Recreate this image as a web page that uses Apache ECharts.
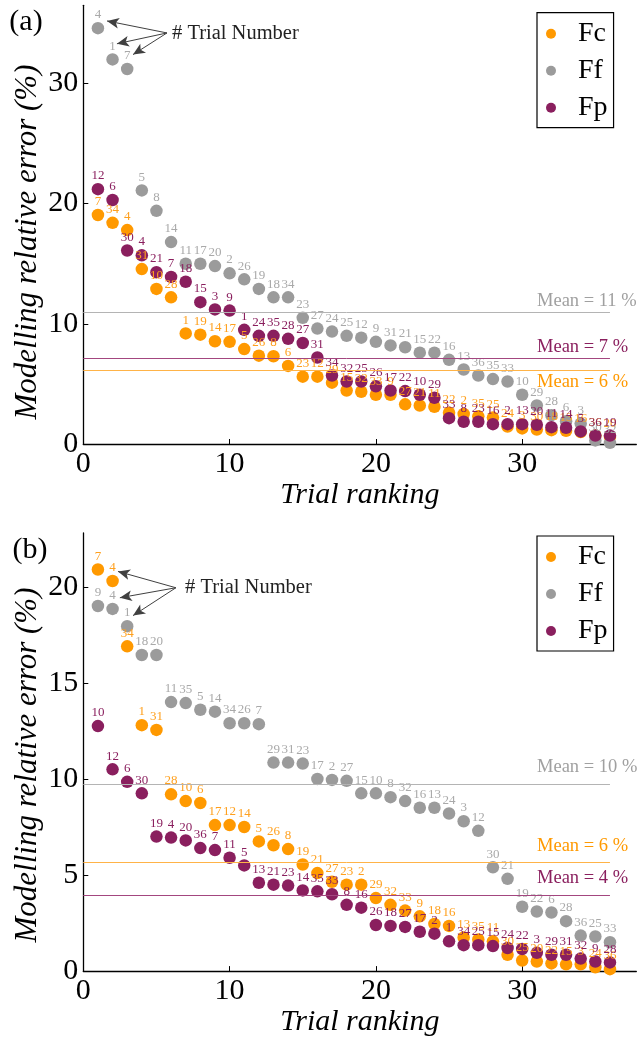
<!DOCTYPE html>
<html><head><meta charset="utf-8">
<script src="https://cdn.jsdelivr.net/npm/echarts@6/dist/echarts.min.js"></script>
<style>html,body{margin:0;padding:0;background:#fff}#c{width:637px;height:1038px}</style>
</head><body><div id="c"></div>
<script>
// ---------- DATA ----------
const ranks = [1,2,3,4,5,6,7,8,9,10,11,12,13,14,15,16,17,18,19,20,21,22,23,24,25,26,27,28,29,30,31,32,33,34,35,36];
const xTicks = [0,10,20,30];
const aYTicks = [0,10,20,30];
const bYTicks = [0,5,10,15,20];

// Panel (a)
const aFc = [19.05,18.4,17.8,14.55,12.9,12.2,9.2,9.1,8.55,8.5,7.9,7.35,7.3,6.5,5.6,5.6,5.1,4.45,4.35,4.1,4.1,3.3,3.2,3.1,2.6,2.5,2.3,2.2,1.45,1.3,1.2,1.15,1.1,1.0,0.7,0.6];
const aFcLab = [7,34,4,31,10,28,1,19,14,17,5,26,8,6,23,12,29,15,32,33,9,27,21,11,22,2,35,25,24,3,30,18,13,16,36,20];
const aFf = [34.6,32.0,31.2,21.1,19.4,16.8,15.0,15.0,14.8,14.2,13.7,12.9,12.2,12.2,10.5,9.6,9.35,9.0,8.85,8.5,8.2,8.05,7.6,7.6,7.0,6.2,5.7,5.4,5.2,4.1,3.2,2.4,1.9,1.7,0.3,0.1];
const aFfLab = [4,1,7,5,8,14,11,17,20,2,26,19,18,34,23,27,24,25,12,9,31,21,15,22,16,13,36,35,33,10,29,28,6,3,30,32];
const aFp = [21.2,20.3,16.1,15.7,14.3,13.9,13.5,11.8,11.2,11.1,9.5,9.0,9.0,8.75,8.4,7.2,5.7,5.2,5.2,4.8,4.45,4.4,4.1,3.85,2.15,1.85,1.85,1.65,1.65,1.65,1.6,1.4,1.35,1.05,0.7,0.7];
const aFpLab = [12,6,30,4,21,7,18,15,3,9,1,24,35,28,27,31,34,32,25,26,17,22,10,29,33,8,23,16,2,13,20,11,14,5,36,19];
const aMeans = [6.1, 11.0, 7.13];            // Fc, Ff, Fp
const aMeanText = ['Mean = 6 %', 'Mean = 11 %', 'Mean = 7 %'];

// Panel (b)
const bFc = [20.9,20.3,16.9,12.8,12.55,9.2,8.85,8.75,7.6,7.6,7.5,6.75,6.55,6.35,5.55,5.1,4.65,4.5,4.5,3.8,3.45,3.15,2.85,2.45,2.35,1.75,1.65,1.55,0.85,0.55,0.5,0.4,0.35,0.35,0.2,0.1];
const bFcLab = [7,4,34,1,31,28,10,6,17,12,14,5,26,8,19,21,27,23,2,29,32,33,9,18,16,13,35,11,30,25,20,22,15,3,24,36];
const bFf = [19.0,18.85,17.95,16.45,16.45,14.0,13.95,13.6,13.5,12.9,12.9,12.85,10.85,10.85,10.8,10.0,9.95,9.9,9.25,9.25,9.05,8.85,8.5,8.5,8.2,7.8,7.3,5.4,4.8,3.35,3.1,3.05,2.6,1.85,1.8,1.5];
const bFfLab = [9,4,1,18,20,11,35,5,14,34,26,7,29,31,23,17,2,27,15,10,8,32,16,13,24,3,12,30,21,19,22,6,28,36,25,33];
const bFp = [12.75,10.5,9.85,9.25,7.0,6.95,6.8,6.4,6.3,5.9,5.5,4.6,4.5,4.45,4.2,4.15,4.0,3.45,3.3,2.4,2.35,2.3,2.05,1.95,1.55,1.35,1.35,1.3,1.2,1.15,0.95,0.85,0.85,0.65,0.5,0.45];
const bFpLab = [10,12,6,30,19,4,20,36,7,11,5,13,21,23,14,35,33,8,16,26,18,27,17,2,1,34,25,15,24,22,3,29,31,32,9,28];
const bMeans = [5.68, 9.74, 3.95];
const bMeanText = ['Mean = 6 %', 'Mean = 10 %', 'Mean = 4 %'];

// annotation arrows (data coords): origin + tips
const aArrowFrom = [5.72, 34.2];
const aArrowTo = [[1.62,35.2],[2.3,33.3],[3.4,32.4]];
const bArrowFrom = [6.33, 19.95];
const bArrowTo = [[2.37,20.8],[2.5,19.43],[3.4,18.5]];

// ---------- STYLE ----------
const F = '"Liberation Serif", "Times New Roman", serif';
const COL = { Fc: '#FF9900', Ff: '#9B9B9B', Fp: '#8A1F5E' };
const LABCOL = { Fc: '#FFA01E', Ff: '#A9A9A9', Fp: '#8A1F5E' };
const LINECOL = { Fc: '#FFB347', Ff: '#B4B4B4', Fp: '#A3467F' };
const names = ['Fc','Ff','Fp'];

function scatter(name, vals, labs, gi, mean) {
  return {
    type: 'scatter', name, xAxisIndex: gi, yAxisIndex: gi,
    symbol: 'circle', symbolSize: 12.5, clip: false,
    itemStyle: { color: COL[name], opacity: 1 },
    label: { show: true, position: 'top', distance: 0.5,
      formatter: p => String(p.value[2]),
      color: LABCOL[name], fontFamily: F, fontSize: 13 },
    emphasis: { disabled: true },
    data: ranks.map((r, i) => [r, vals[i], labs[i]]),
    markLine: {
      silent: true, symbol: 'none', label: { show: false },
      lineStyle: { color: LINECOL[name], width: 1, type: 'solid' },
      data: [[{ coord: [0, mean] }, { coord: [36, mean] }]]
    }
  };
}
function arrows(gi, from, tos) {
  return {
    type: 'scatter', name: 'arrows' + gi, xAxisIndex: gi, yAxisIndex: gi, data: [],
    markLine: {
      silent: true, symbol: ['none', 'arrow'], symbolSize: [8, 12],
      label: { show: false },
      lineStyle: { color: '#404040', width: 1, type: 'solid' },
      data: tos.map(t => [{ coord: from }, { coord: t }])
    }
  };
}
function xAxis(gi) {
  return {
    type: 'value', gridIndex: gi, min: 0, max: 37.8, interval: 10,
    name: 'Trial ranking', nameLocation: 'middle', nameGap: 26,
    nameTextStyle: { fontFamily: F, fontSize: 30, fontStyle: 'italic', color: '#000' },
    axisLine: { show: true, onZero: false, lineStyle: { color: '#000', width: 1.3 } },
    axisTick: { show: true, inside: true, length: 5, customValues: xTicks, lineStyle: { color: '#000', width: 1 } },
    axisLabel: { customValues: xTicks, fontFamily: F, fontSize: 30, color: '#000', margin: 5 },
    splitLine: { show: false }
  };
}
function yAxis(gi, max, interval, ticks) {
  return {
    type: 'value', gridIndex: gi, min: 0, max, interval,
    axisLine: { show: true, onZero: false, lineStyle: { color: '#000', width: 1.3 } },
    axisTick: { show: true, inside: true, length: 5, customValues: ticks, lineStyle: { color: '#000', width: 1 } },
    axisLabel: { customValues: ticks, fontFamily: F, fontSize: 30, color: '#000', margin: 5 },
    splitLine: { show: false }
  };
}
function legend(top) {
  return {
    data: names, orient: 'vertical', left: 537, top,
    icon: 'circle', itemWidth: 44, itemHeight: 10, itemGap: 7,
    padding: [6, 6, 5, 9],
    borderColor: '#000', borderWidth: 1.2, backgroundColor: '#fff',
    selectedMode: false,
    textStyle: { fontFamily: F, fontSize: 28, color: '#000', lineHeight: 30 }
  };
}
function txt(x, y, text, font, fill, align, rot) {
  return { type: 'text', x, y, rotation: rot || 0, z: 100,
    style: { text, font, fill, textAlign: align || 'left', textVerticalAlign: 'middle' } };
}

const chart = echarts.init(document.getElementById('c'), null, { renderer: 'canvas' });
const option = {
  animation: false,
  backgroundColor: '#fff',
  grid: [
    { left: 83.3, width: 553, top: 5.3, height: 438.7 },
    { left: 83.3, width: 553, top: 533, height: 440 }
  ],
  xAxis: [xAxis(0), xAxis(1)],
  yAxis: [yAxis(0, 36.5, 10, aYTicks), yAxis(1, 22.8, 5, bYTicks)],
  legend: [legend(12.7), legend(536)],
  series: [
    scatter('Fc', aFc, aFcLab, 0, aMeans[0]),
    scatter('Ff', aFf, aFfLab, 0, aMeans[1]),
    scatter('Fp', aFp, aFpLab, 0, aMeans[2]),
    arrows(0, aArrowFrom, aArrowTo),
    scatter('Fc', bFc, bFcLab, 1, bMeans[0]),
    scatter('Ff', bFf, bFfLab, 1, bMeans[1]),
    scatter('Fp', bFp, bFpLab, 1, bMeans[2]),
    arrows(1, bArrowFrom, bArrowTo)
  ],
  graphic: [
    txt(26, 22, '(a)', '30px ' + F, '#000', 'center'),
    txt(30, 550, '(b)', '30px ' + F, '#000', 'center'),
    txt(28, 242, 'Modelling relative error (%)', 'italic 31px ' + F, '#000', 'center', Math.PI / 2),
    txt(28, 765, 'Modelling relative error (%)', 'italic 31px ' + F, '#000', 'center', Math.PI / 2),
    txt(172, 34, '# Trial Number', '20.5px ' + F, '#222'),
    txt(185, 588, '# Trial Number', '20.5px ' + F, '#222'),
    txt(537, 300.7, aMeanText[1], '18.5px ' + F, '#A0A0A0'),
    txt(537, 346.7, aMeanText[2], '18.5px ' + F, COL.Fp),
    txt(537, 381.7, aMeanText[0], '18.5px ' + F, COL.Fc),
    txt(537, 767.3, bMeanText[1], '18.5px ' + F, '#A0A0A0'),
    txt(537, 846, bMeanText[0], '18.5px ' + F, COL.Fc),
    txt(537, 878.3, bMeanText[2], '18.5px ' + F, COL.Fp)
  ]
};
chart.setOption(option);
</script>
</body></html>
